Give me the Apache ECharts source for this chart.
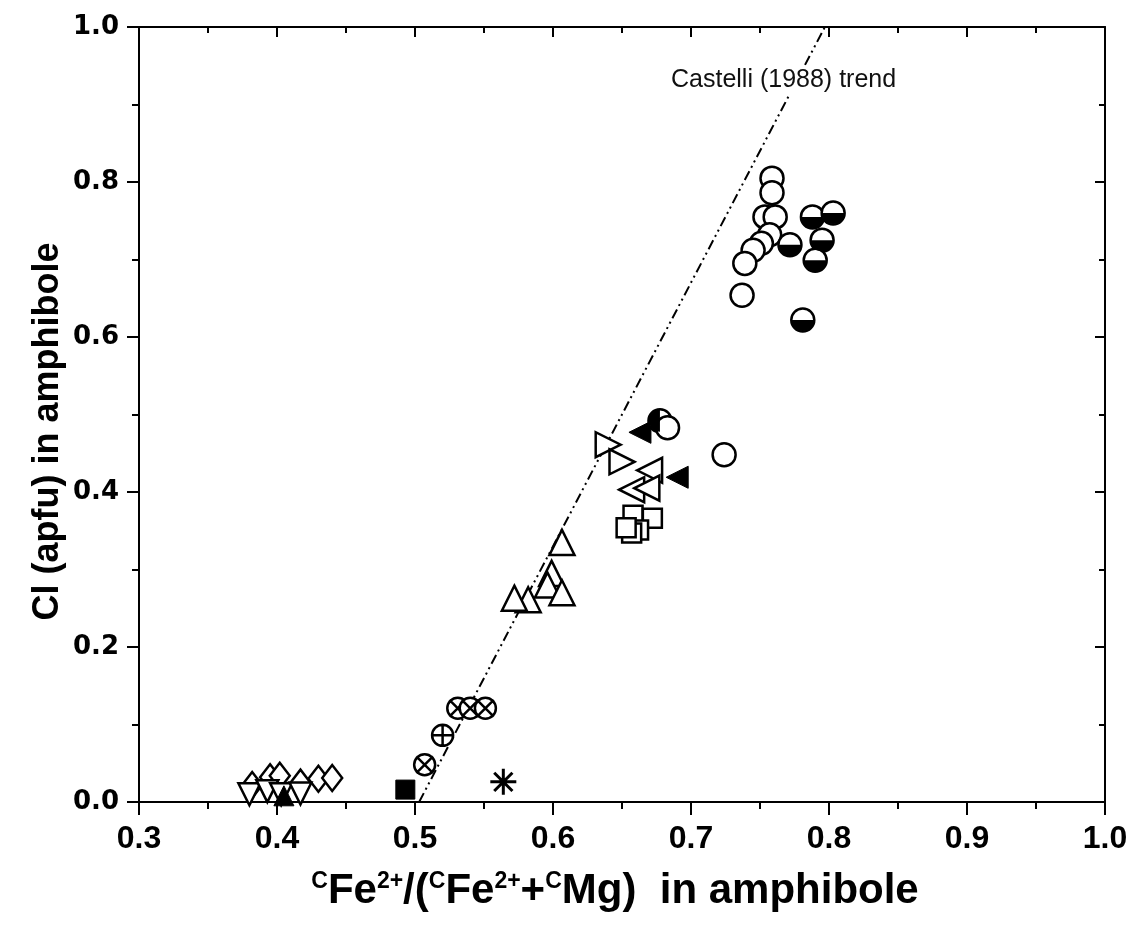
<!DOCTYPE html>
<html>
<head>
<meta charset="utf-8">
<script src="https://cdn.jsdelivr.net/npm/echarts@6/dist/echarts.min.js"></script>
<style>
	html, body { margin: 0; padding: 0; background: #fff; }
	#chart { width: 1133px; height: 936px; }
</style>
</head>
<body>
<div id="chart"></div>
<script>
// x axis ticks / y axis ticks
var xTicks = [0.3, 0.4, 0.5, 0.6, 0.7, 0.8, 0.9, 1.0];
var yTicks = [0.0, 0.2, 0.4, 0.6, 0.8, 1.0];

// open circles
var circleOpen = [
	[0.7587, 0.805], [0.7587, 0.786], [0.7536, 0.755], [0.761, 0.755], [0.757, 0.732],
	[0.751, 0.721], [0.745, 0.712], [0.739, 0.695], [0.737, 0.654], [0.724, 0.448],
	[0.683, 0.483]
];
// circles with black lower half
var circleHalfBottom = [
	[0.7717, 0.719], [0.788, 0.755], [0.803, 0.760], [0.795, 0.725], [0.790, 0.699], [0.781, 0.622]
];
// circle with black left half
var circleHalfLeft = [[0.6775, 0.492]];
// right pointing open triangles
var triRight = [[0.640, 0.461], [0.650, 0.439]];
// left pointing open triangles
var triLeftOpen = [[0.670, 0.428], [0.657, 0.403], [0.668, 0.405]];
// left pointing filled triangles
var triLeftFilled = [[0.663, 0.477], [0.690, 0.419]];
// open squares
var squareOpen = [[0.658, 0.370], [0.672, 0.366], [0.662, 0.351], [0.657, 0.347], [0.653, 0.354]];
// up open triangles
var triUp = [[0.6065, 0.335], [0.599, 0.295], [0.596, 0.280], [0.6065, 0.270], [0.582, 0.261], [0.572, 0.263]];
// crossed circles
var crossCircle = [[0.531, 0.121], [0.540, 0.121], [0.551, 0.121], [0.507, 0.048]];
// plus circles
var plusCircle = [[0.520, 0.086]];
// asterisk
var asterisk = [[0.564, 0.026]];
// filled square
var squareFilled = [[0.493, 0.016]];
// open diamonds
var diamondOpen = [[0.382, 0.022], [0.395, 0.032], [0.402, 0.034], [0.417, 0.025], [0.430, 0.030], [0.440, 0.031]];
// down open triangles
var triDown = [[0.380, 0.010], [0.393, 0.014], [0.403, 0.010], [0.417, 0.011]];
// up filled triangles
var triUpFilled = [[0.405, 0.008]];
// Castelli (1988) trend
var trendX = [0.503, 0.797];
var trendY = [0.0, 1.0];

var chart = echarts.init(document.getElementById('chart'));

var pathCross = 'path://M20,10A10,10,0,1,1,0,10A10,10,0,1,1,20,10Z M2,2L18,18 M18,2L2,18';
var pathPlus = 'path://M20,10A10,10,0,1,1,0,10A10,10,0,1,1,20,10Z M10,0L10,20 M0,10L20,10';
var pathStar = 'path://M10,0L10,20 M0,10L20,10 M3,3L17,17 M17,3L3,17';
var pathHalfBottom = 'path://M0,0L20,0A10,10,0,0,1,0,0Z';
var pathHalfLeft = 'path://M10,0L10,20A10,10,0,0,1,10,0Z';

var openStyle = { color: '#fff', borderColor: '#000', borderWidth: 2.5, opacity: 1 };
var fillStyle = { color: '#000', borderColor: '#000', borderWidth: 1, opacity: 1 };

function sc(name, data, symbol, size, style, extra) {
	var s = {
		name: name,
		type: 'scatter',
		data: data,
		symbol: symbol,
		symbolSize: size,
		itemStyle: style,
		silent: true,
		z: 3
	};
	for (var k in extra) s[k] = extra[k];
	return s;
}

var axisFont = "'Liberation Sans Narrow', 'Arial Narrow', 'Liberation Sans', Arial, sans-serif";
var lineW = 2;

var option = {
	backgroundColor: '#fff',
	animation: false,
	grid: { left: 139, right: 28, top: 27, bottom: 134 },
	xAxis: [{
		type: 'value', min: 0.3, max: 1.0, interval: 0.1,
		position: 'bottom',
		name: '{s|C}Fe{s|2+}/({s|C}Fe{s|2+}+{s|C}Mg)  in amphibole',
		nameLocation: 'middle', nameGap: 68, nameMoveOverlap: false,
		nameTextStyle: {
			fontFamily: axisFont, fontWeight: 'bold', fontSize: 42, color: '#000',
			padding: [0, 14, 0, 0],
			rich: {
				s: { fontFamily: axisFont, fontWeight: 'bold', fontSize: 23, verticalAlign: 'top', color: '#000' }
			}
		},
		axisLine: { show: true, onZero: false, lineStyle: { color: '#000', width: lineW } },
		axisTick: { show: true, inside: false, length: 13, lineStyle: { color: '#000', width: 2 } },
		minorTick: { show: true, splitNumber: 2, length: 7, lineStyle: { color: '#000', width: 2 } },
		splitLine: { show: false },
		axisLabel: {
			margin: 21, color: '#000', fontSize: 32, fontWeight: 'bold', fontFamily: axisFont,
			formatter: function(v) { return v.toFixed(1); }
		}
	}, {
		type: 'value', min: 0.3, max: 1.0, interval: 0.1,
		position: 'top',
		axisLine: { show: true, onZero: false, lineStyle: { color: '#000', width: lineW } },
		axisTick: { show: true, inside: true, length: 10, lineStyle: { color: '#000', width: 2 } },
		minorTick: { show: true, splitNumber: 2, length: 6, lineStyle: { color: '#000', width: 2 } },
		splitLine: { show: false },
		axisLabel: { show: false }
	}],
	yAxis: [{
		type: 'value', min: 0, max: 1.0, interval: 0.2,
		position: 'left',
		name: 'Cl (apfu) in amphibole',
		nameLocation: 'middle', nameGap: 73, nameMoveOverlap: false,
		nameTextStyle: {
			fontFamily: "'Liberation Sans', Arial, sans-serif", fontWeight: 'bold', fontSize: 36, color: '#000',
			padding: [0, 34, 0, 0]
		},
		axisLine: { show: true, onZero: false, lineStyle: { color: '#000', width: lineW } },
		axisTick: { show: true, inside: false, length: 12, lineStyle: { color: '#000', width: 2 } },
		minorTick: { show: true, splitNumber: 2, length: 7, lineStyle: { color: '#000', width: 2 } },
		splitLine: { show: false },
		axisLabel: {
			margin: 20, color: '#000', fontSize: 26, fontWeight: 'bold',
			fontFamily: "'DejaVu Sans', 'Liberation Sans', Arial, sans-serif",
			formatter: function(v) { return v.toFixed(1); }
		}
	}, {
		type: 'value', min: 0, max: 1.0, interval: 0.2,
		position: 'right',
		axisLine: { show: true, onZero: false, lineStyle: { color: '#000', width: lineW } },
		axisTick: { show: true, inside: true, length: 10, lineStyle: { color: '#000', width: 2 } },
		minorTick: { show: true, splitNumber: 2, length: 6, lineStyle: { color: '#000', width: 2 } },
		splitLine: { show: false },
		axisLabel: { show: false }
	}],
	graphic: [{
		type: 'text', left: 671, top: 66, silent: true, z: 10,
		style: {
			text: 'Castelli (1988) trend', fontSize: 25, fontFamily: "'Liberation Sans', Arial, sans-serif",
			fill: '#111', backgroundColor: '#fff', padding: [2, 0, 2, 0]
		}
	}],
	series: [
		{
			name: 'trend', type: 'line', silent: true, symbol: 'none', z: 2,
			data: [[trendX[0], trendY[0]], [trendX[1], trendY[1]]],
			lineStyle: { color: '#000', width: 2, type: [10, 4, 2, 4, 2, 4] }
		},
		sc('diamond', diamondOpen, 'diamond', [20, 26], openStyle),
		sc('triDown', triDown, 'triangle', 22, openStyle, { symbolRotate: 180 }),
		sc('triUpFilled', triUpFilled, 'triangle', 20, fillStyle),
		sc('squareFilled', squareFilled, 'rect', 19, fillStyle),
		sc('cross', crossCircle, pathCross, 21, { color: '#fff', borderColor: '#000', borderWidth: 2.5, opacity: 1 }),
		sc('plus', plusCircle, pathPlus, 21, { color: '#fff', borderColor: '#000', borderWidth: 2.5, opacity: 1 }),
		sc('star', asterisk, pathStar, 26, { color: 'none', borderColor: '#000', borderWidth: 3, opacity: 1 }),
		sc('triUp', triUp, 'triangle', 25, openStyle),
		sc('square', squareOpen, 'rect', 19, openStyle),
		sc('triRight', triRight, 'triangle', 25, openStyle, { symbolRotate: -90 }),
		sc('triLeft', triLeftOpen, 'triangle', 25, openStyle, { symbolRotate: 90 }),
		sc('triLeftFilled', triLeftFilled, 'triangle', 22, fillStyle, { symbolRotate: 90 }),
		sc('circleHalfLeftBase', circleHalfLeft, 'circle', 23, openStyle),
		sc('circleHalfLeft', circleHalfLeft, pathHalfLeft, [11, 22], { color: '#000', opacity: 1 }, { symbolOffset: [-5.5, 0], z: 4 }),
		sc('circle', circleOpen, 'circle', 23, openStyle),
		sc('circleHalfBase', circleHalfBottom, 'circle', 23, openStyle),
		sc('circleHalfBottom', circleHalfBottom, pathHalfBottom, [22, 11], { color: '#000', opacity: 1 }, { symbolOffset: [0, 5.5], z: 4 })
	]
};

chart.setOption(option);
</script>
</body>
</html>
